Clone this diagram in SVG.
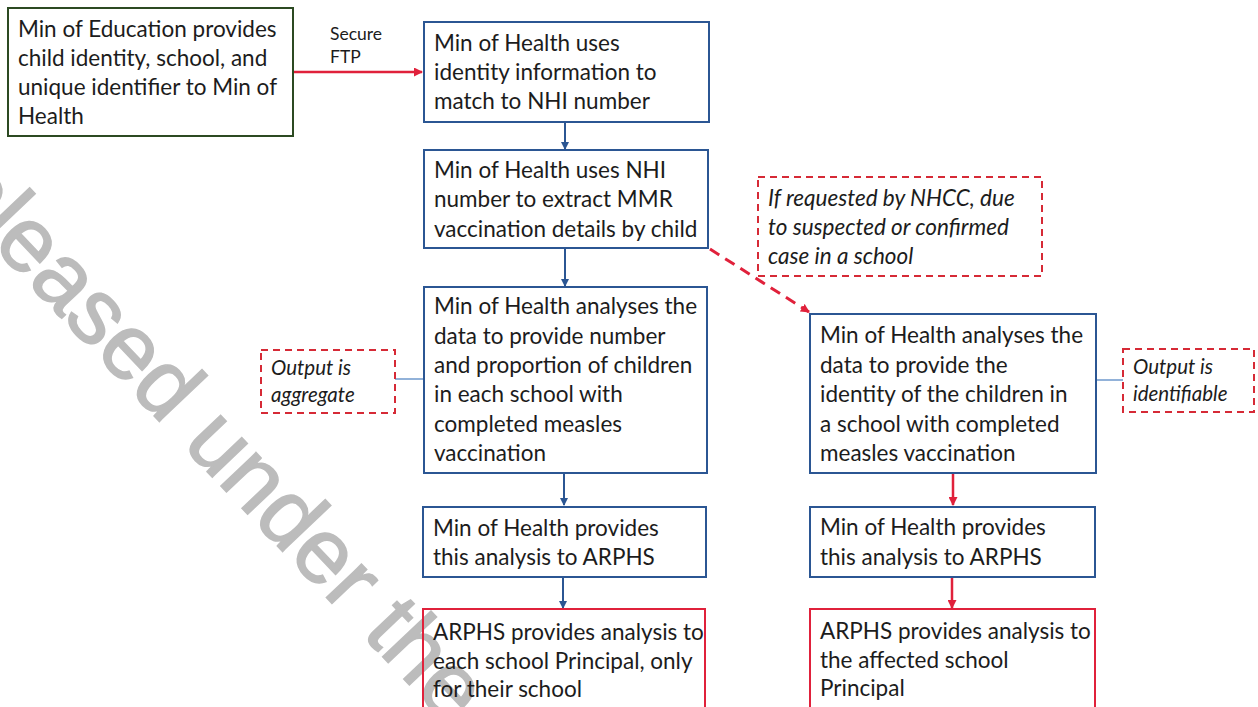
<svg xmlns="http://www.w3.org/2000/svg" width="1258" height="707" viewBox="0 0 1258 707">
  <defs>
    <style>
      .box{fill:none;stroke-width:2}
      .blue{stroke:#2b5693}
      .red{stroke:#e0213b}
      .green{stroke:#2c4a22}
      .note{fill:none;stroke:#d62a36;stroke-width:2;stroke-dasharray:7 5}
      .t{font-family:Lato,"Open Sans",sans-serif;font-size:22.5px;fill:#1c1c1c}
      .lbl{font-size:17.5px}
      .nt{font-size:20.5px;font-style:italic}
      .i{font-style:italic}
      .ab{stroke:#2b5693;stroke-width:2;fill:none}
      .ar{stroke:#e0213b;stroke-width:2.5;fill:none}
      .thin{stroke:#4a7fc0;stroke-width:1.2;fill:none}
      .dash{stroke:#e0213b;stroke-width:3;stroke-dasharray:11 7;fill:none}
      .wm{font-family:"Liberation Sans",Arial,sans-serif;font-size:92px;fill:#bcbcbc;stroke:#bcbcbc;stroke-width:1.5}
    </style>
    <marker id="hb" markerWidth="8" markerHeight="8" refX="7" refY="4" orient="auto" markerUnits="userSpaceOnUse">
      <path d="M0,0 L8,4 L0,8 z" fill="#2b5693"/>
    </marker>
    <marker id="hr" markerWidth="9" markerHeight="9" refX="8" refY="4.5" orient="auto" markerUnits="userSpaceOnUse">
      <path d="M0,0 L9,4.5 L0,9 z" fill="#e0213b"/>
    </marker>
  </defs>
  <rect width="1258" height="707" fill="#fff"/>

  <!-- release stamp across the page, beneath the flow -->
  <text class="wm" transform="translate(-104,144) rotate(46.5)">Released under the Official Information Act</text>

  <!-- connectors -->
  <g id="connectors">
    <path class="ar" d="M293,72 H422" marker-end="url(#hr)"/>
    <path class="ab" d="M565,122 V149" marker-end="url(#hb)"/>
    <path class="ab" d="M565,248 V286" marker-end="url(#hb)"/>
    <path class="ab" d="M564,473 V505" marker-end="url(#hb)"/>
    <path class="ab" d="M563,578 V608" marker-end="url(#hb)"/>
    <path class="dash" d="M710,249 L809,312" marker-end="url(#hr)"/>
    <path class="ar" d="M953,473 V505" marker-end="url(#hr)"/>
    <path class="ar" d="M952,578 V608" marker-end="url(#hr)"/>
    <path class="thin" d="M395,379 H424"/>
    <path class="thin" d="M1096,380 H1123"/>
    <text class="t lbl" x="330" y="40">Secure</text>
    <text class="t lbl" x="330" y="63">FTP</text>
  </g>

  <g id="moe">
    <rect class="box green" x="8" y="8" width="285" height="128"/>
    <text class="t"><tspan x="18" y="37">Min of Education provides</tspan><tspan x="18" y="66">child identity, school, and</tspan><tspan x="18" y="95">unique identifier to Min of</tspan><tspan x="18" y="124">Health</tspan></text>
  </g>

  <g id="match-nhi">
    <rect class="box blue" x="424" y="22" width="285" height="100"/>
    <text class="t"><tspan x="434" y="51">Min of Health uses</tspan><tspan x="434" y="80">identity information to</tspan><tspan x="434" y="109">match to NHI number</tspan></text>
  </g>

  <g id="extract-mmr">
    <rect class="box blue" x="424" y="150" width="284" height="98"/>
    <text class="t"><tspan x="434" y="178">Min of Health uses NHI</tspan><tspan x="434" y="207">number to extract MMR</tspan><tspan x="434" y="237">vaccination details by child</tspan></text>
  </g>

  <g id="nhcc-request">
    <rect class="note" x="758" y="177" width="284" height="99"/>
    <text class="t i"><tspan x="768" y="206">If requested by NHCC, due</tspan><tspan x="768" y="235">to suspected or confirmed</tspan><tspan x="768" y="264">case in a school</tspan></text>
  </g>

  <g id="aggregate-note">
    <rect class="note" x="261" y="350" width="134" height="63"/>
    <text class="t nt"><tspan x="271" y="375">Output is</tspan><tspan x="271" y="402">aggregate</tspan></text>
  </g>

  <g id="analyse-aggregate">
    <rect class="box blue" x="424" y="287" width="283" height="186"/>
    <text class="t"><tspan x="434" y="314">Min of Health analyses the</tspan><tspan x="434" y="344">data to provide number</tspan><tspan x="434" y="373">and proportion of children</tspan><tspan x="434" y="402">in each school with</tspan><tspan x="434" y="432">completed measles</tspan><tspan x="434" y="461">vaccination</tspan></text>
  </g>

  <g id="provide-aggregate">
    <rect class="box blue" x="423" y="507" width="283" height="70"/>
    <text class="t"><tspan x="433" y="536">Min of Health provides</tspan><tspan x="433" y="565">this analysis to ARPHS</tspan></text>
  </g>

  <g id="principal-each">
    <rect class="box red" x="423" y="609" width="282" height="110"/>
    <text class="t"><tspan x="433" y="640">ARPHS provides analysis to</tspan><tspan x="433" y="669">each school Principal, only</tspan><tspan x="433" y="697">for their school</tspan></text>
  </g>

  <g id="analyse-identity">
    <rect class="box blue" x="810" y="314" width="286" height="159"/>
    <text class="t"><tspan x="820" y="343">Min of Health analyses the</tspan><tspan x="820" y="373">data to provide the</tspan><tspan x="820" y="402">identity of the children in</tspan><tspan x="820" y="432">a school with completed</tspan><tspan x="820" y="461">measles vaccination</tspan></text>
  </g>

  <g id="identifiable-note">
    <rect class="note" x="1123" y="349" width="131" height="63"/>
    <text class="t nt"><tspan x="1133" y="374">Output is</tspan><tspan x="1133" y="401">identifiable</tspan></text>
  </g>

  <g id="provide-identity">
    <rect class="box blue" x="810" y="507" width="285" height="70"/>
    <text class="t"><tspan x="820" y="535">Min of Health provides</tspan><tspan x="820" y="565">this analysis to ARPHS</tspan></text>
  </g>

  <g id="principal-affected">
    <rect class="box red" x="810" y="609" width="285" height="110"/>
    <text class="t"><tspan x="820" y="639">ARPHS provides analysis to</tspan><tspan x="820" y="668">the affected school</tspan><tspan x="820" y="696">Principal</tspan></text>
  </g>
</svg>
